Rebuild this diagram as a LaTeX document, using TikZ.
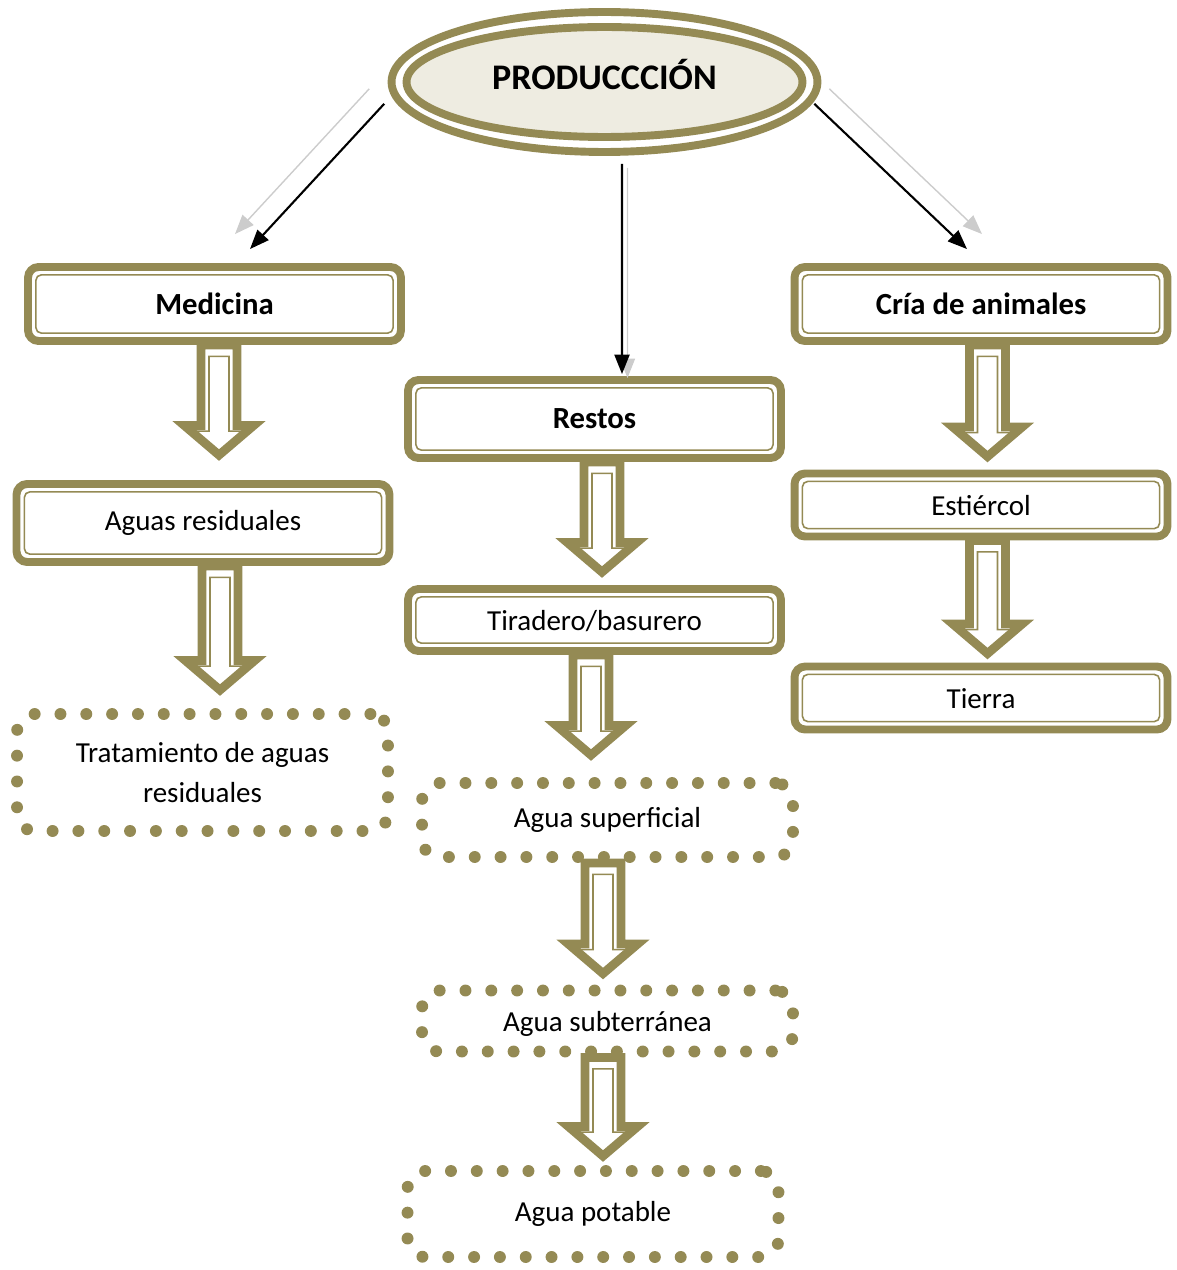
\documentclass[tikz,border=0pt]{standalone}
\usepackage{fontspec}
\setmainfont{Carlito}
\usetikzlibrary{arrows.meta, calc, shapes.geometric}
\definecolor{olivebrown}{HTML}{948A54}
\definecolor{paleback}{HTML}{EEECE1}

% hollow block arrow: #1 top point, #2 tip point (x taken from #1)
\newcommand{\hollowarrow}[2]{%
  \draw[bigarrow] let \p1=#1, \p2=#2 in
    (\x1-10.2pt,\y1) -- (\x1-10.2pt,\y2+16.8pt) -- (\x1-19.7pt,\y2+16.8pt) -- (\x1,\y2)
    -- (\x1+19.7pt,\y2+16.8pt) -- (\x1+10.2pt,\y2+16.8pt) -- (\x1+10.2pt,\y1) -- cycle;
  \draw[olivebrown, line width=0.9pt] let \p1=#1, \p2=#2 in
    (\x1-5.7pt,\y1-6.5pt) -- (\x1-5.7pt,\y2+13.6pt) -- (\x1-15.9pt,\y2+13.6pt) -- (\x1,\y2+2.3pt)
    -- (\x1+15.9pt,\y2+13.6pt) -- (\x1+5.7pt,\y2+13.6pt) -- (\x1+5.7pt,\y1-6.5pt) -- cycle;
}

\begin{document}
\begin{tikzpicture}[
  x=0.02cm, y=-0.02cm,
  title/.style={ellipse, draw=olivebrown, fill=white, line width=4.5pt, inner sep=0pt,
    minimum width=8.52cm, minimum height=2.8cm, font=\fontsize{20.5}{24}\selectfont\bfseries,
    text height=0.82em, text depth=0pt,
    path picture={\draw[olivebrown, line width=4.5pt, fill=paleback]
      (path picture bounding box.center) ellipse [x radius=3.96cm, y radius=1.1cm];}},
  dbox/.style={draw=olivebrown, fill=white, line width=4.5pt, rounded corners=6pt,
    minimum width=7.46cm, align=center,
    path picture={\draw[olivebrown, line width=0.9pt, rounded corners=3pt]
      ([shift={(4.5pt,-4.5pt)}]path picture bounding box.north west) rectangle
      ([shift={(-4.5pt,4.5pt)}]path picture bounding box.south east);}},
  dotbox/.style={draw=olivebrown, line width=6.8pt, dash pattern=on 0pt off 14.7pt,
    line cap=round, rounded corners=10pt, minimum width=7.42cm, align=center},
  head/.style={font=\fontsize{17.5}{21}\selectfont\bfseries},
  body/.style={font=\fontsize{16.5}{22.7}\selectfont},
  low/.style={text height=1.22em, text depth=0pt},
  bigarrow/.style={draw=olivebrown, fill=white, line width=5pt, line join=miter},
  arrow/.style={-{Triangle[length=11pt,width=8.5pt]}, line width=1.2pt},
  ghost/.style={-{Triangle[length=11pt,width=8.5pt]}, line width=0.8pt, draw=gray!40}
]
  \useasboundingbox (0,0) rectangle (1176,1270);

  \node[title] (prod) at (604.5,82) {PRODUCCCIÓN};

  \node[dbox, head, minimum height=1.48cm] (med) at (214.5,304) {Medicina};
  \node[dbox, head, minimum height=1.48cm] (cria) at (981,304) {Cría de animales};
  \node[dbox, head, minimum height=1.56cm] (rest) at (594.5,419) {Restos};
  \node[dbox, body, minimum height=1.56cm] (aguas) at (203,523) {Aguas residuales};
  \node[dbox, body, low, minimum height=1.24cm] (tir) at (594.5,620) {Tiradero/basurero};
  \node[dbox, body, low, minimum height=1.26cm] (est) at (981,505) {Estiércol};
  \node[dbox, body, low, minimum height=1.26cm] (tierra) at (981,698) {Tierra};

  \node[dotbox, body, minimum height=2.34cm] (trat) at (202.5,772.5) {Tratamiento de aguas\\residuales};
  \node[dotbox, body, minimum height=1.48cm] (sup) at (607.5,820) {Agua superficial};
  \node[dotbox, body, low, minimum height=1.22cm] (sub) at (607.5,1021) {Agua subterránea};
  \node[dotbox, body, minimum height=1.72cm] (pot) at (593,1214) {Agua potable};

  % shadow lines
  \draw[ghost, transform canvas={xshift=-0.3cm, yshift=0.3cm}]
    ([xshift=-0.26cm]prod.186) -- ([shift={(0.71cm,0.28cm)}]med.north);
  \draw[ghost, transform canvas={xshift=0.3cm, yshift=0.3cm}]
    ([xshift=0.05cm]prod.354) -- ([shift={(-0.28cm,0.28cm)}]cria.north);
  \draw[ghost, transform canvas={xshift=0.11cm, yshift=-0.08cm}]
    ([shift={(0.35cm,-0.16cm)}]prod.south) -- ([shift={(0.55cm,0.04cm)}]rest.north);

  \draw[arrow] ([xshift=-0.26cm]prod.186) -- ([shift={(0.71cm,0.28cm)}]med.north);
  \draw[arrow] ([xshift=0.05cm]prod.354) -- ([shift={(-0.28cm,0.28cm)}]cria.north);
  \draw[arrow] ([shift={(0.35cm,-0.16cm)}]prod.south) -- ([shift={(0.55cm,0.04cm)}]rest.north);

  % block arrows
  \hollowarrow{([xshift=0.09cm]med.south)}{([yshift=0.5cm]aguas.north)}
  \hollowarrow{([xshift=0.34cm]aguas.south)}{([yshift=0.36cm]trat.north)}
  \hollowarrow{([xshift=0.15cm]rest.south)}{([yshift=0.26cm]tir.north)}
  \hollowarrow{([xshift=-0.07cm]tir.south)}{([yshift=0.44cm]sup.north)}
  \hollowarrow{([xshift=-0.09cm]sup.south)}{([yshift=0.22cm]sub.north)}
  \hollowarrow{([xshift=-0.09cm]sub.south)}{([yshift=0.18cm]pot.north)}
  \hollowarrow{([xshift=0.13cm]cria.south)}{([yshift=0.26cm]est.north)}
  \hollowarrow{([xshift=0.13cm]est.south)}{([yshift=0.18cm]tierra.north)}
\end{tikzpicture}
\end{document}
